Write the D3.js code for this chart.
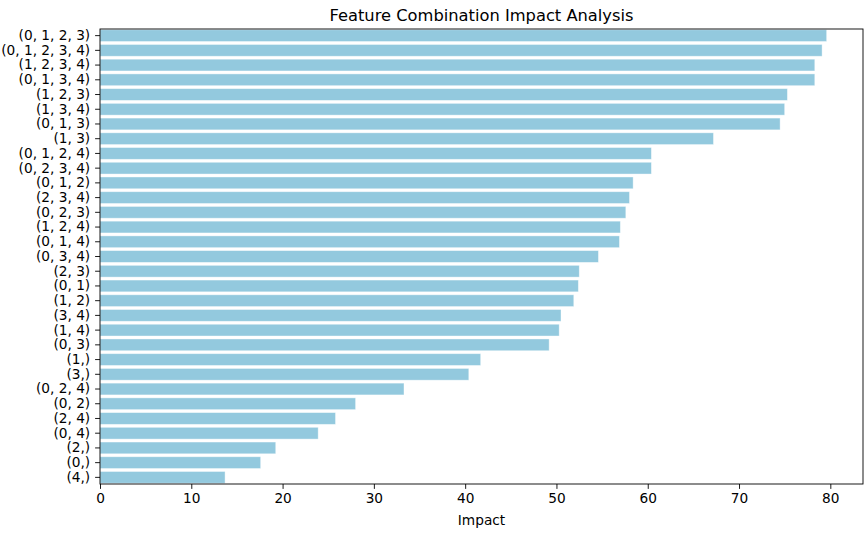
<!DOCTYPE html>
<html>
<head>
<meta charset="utf-8">
<script src="https://cdn.jsdelivr.net/npm/d3@7"></script>
<style>
  body { margin: 0; background: #fff; }
  svg { display: block; font-family: "DejaVu Sans", sans-serif; }
</style>
</head>
<body>
<svg id="chart" width="866" height="541"></svg>
<script>
const categories = [
  "(0, 1, 2, 3)", "(0, 1, 2, 3, 4)", "(1, 2, 3, 4)", "(0, 1, 3, 4)", "(1, 2, 3)",
  "(1, 3, 4)", "(0, 1, 3)", "(1, 3)", "(0, 1, 2, 4)", "(0, 2, 3, 4)",
  "(0, 1, 2)", "(2, 3, 4)", "(0, 2, 3)", "(1, 2, 4)", "(0, 1, 4)",
  "(0, 3, 4)", "(2, 3)", "(0, 1)", "(1, 2)", "(3, 4)",
  "(1, 4)", "(0, 3)", "(1,)", "(3,)", "(0, 2, 4)",
  "(0, 2)", "(2, 4)", "(0, 4)", "(2,)", "(0,)", "(4,)"
];
const impacts = [
  79.6, 79.1, 78.3, 78.3, 75.3,
  75.0, 74.5, 67.2, 60.4, 60.4,
  58.4, 58.0, 57.6, 57.0, 56.9,
  54.6, 52.5, 52.4, 51.9, 50.5,
  50.3, 49.2, 41.7, 40.4, 33.3,
  28.0, 25.8, 23.9, 19.25, 17.6, 13.7
];
const xTicks = [0, 10, 20, 30, 40, 50, 60, 70, 80];
const title = "Feature Combination Impact Analysis";
const xLabel = "Impact";

const data = categories.map((c, i) => ({ name: c, value: impacts[i] }));

const svg = d3.select("#chart");
const margin = { left: 100, right: 3, top: 29, bottom: 57 };
const W = 866, H = 541;
const plotW = W - margin.left - margin.right;
const plotH = H - margin.top - margin.bottom;

const xMax = d3.max(impacts) * 1.05;
const x = d3.scaleLinear().domain([0, xMax]).range([margin.left, margin.left + plotW]);
const y = d3.scaleBand().domain(categories).range([margin.top, margin.top + plotH])
  .paddingInner(0.2).paddingOuter(0.05);

// bars
svg.append("g").selectAll("rect").data(data).join("rect")
  .attr("x", x(0))
  .attr("y", d => y(d.name))
  .attr("width", d => x(d.value) - x(0))
  .attr("height", y.bandwidth())
  .attr("fill", "#93c9de")
  .attr("stroke", "#ffffff")
  .attr("stroke-opacity", 0.5)
  .attr("stroke-width", 0.8);

// axes
const xAxis = d3.axisBottom(x).tickValues(xTicks).tickSize(4.9).tickPadding(4.5).tickSizeOuter(0);
const gx = svg.append("g").attr("transform", `translate(0,${margin.top + plotH})`).call(xAxis);
const yAxis = d3.axisLeft(y).tickSize(4.9).tickPadding(4.9).tickSizeOuter(0);
const gy = svg.append("g").attr("transform", `translate(${margin.left},0)`).call(yAxis);

[gx, gy].forEach(g => {
  g.selectAll("text").attr("font-size", "13.7px").attr("font-family", "DejaVu Sans, sans-serif").attr("fill", "#000");
  g.selectAll("line").attr("stroke", "#000").attr("stroke-width", 0.9);
  g.select(".domain").remove();
});

// frame
svg.append("rect")
  .attr("x", margin.left).attr("y", margin.top)
  .attr("width", plotW).attr("height", plotH)
  .attr("fill", "none").attr("stroke", "#000").attr("stroke-width", 0.9);

// title
svg.append("text")
  .attr("x", margin.left + plotW / 2).attr("y", 21)
  .attr("text-anchor", "middle")
  .attr("font-size", "16.3px")
  .attr("fill", "#000")
  .text(title);

// x label
svg.append("text")
  .attr("x", margin.left + plotW / 2).attr("y", 525)
  .attr("text-anchor", "middle")
  .attr("font-size", "13.7px")
  .attr("fill", "#000")
  .text(xLabel);
</script>
</body>
</html>
